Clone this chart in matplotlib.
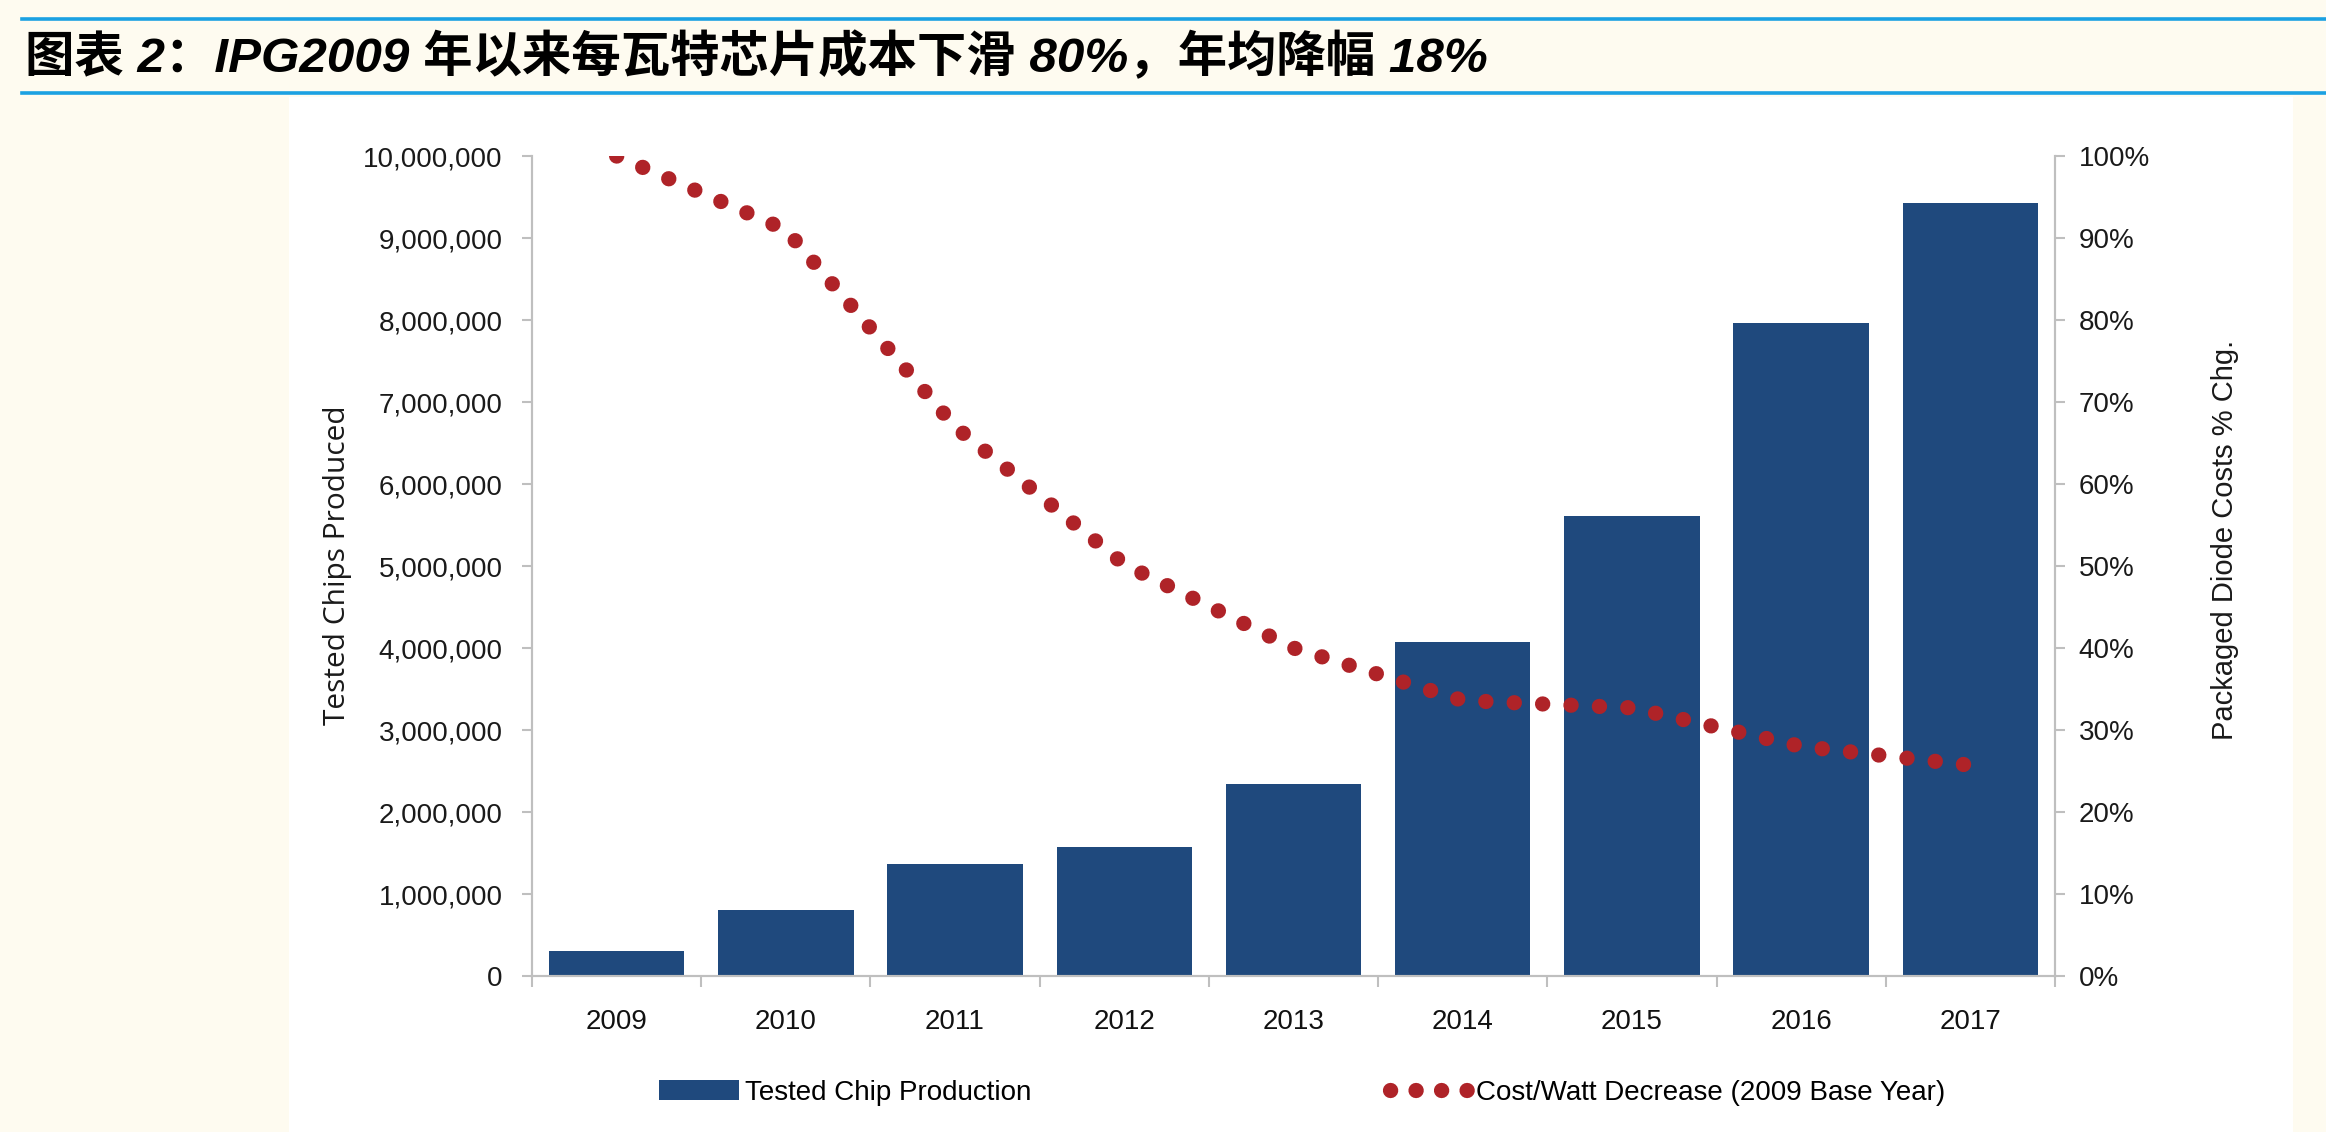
import matplotlib
matplotlib.use("Agg")
import matplotlib.pyplot as plt
from matplotlib import font_manager
from matplotlib.lines import Line2D
from matplotlib.patches import Patch, Rectangle
from matplotlib.ticker import FuncFormatter, MultipleLocator, FixedLocator
import numpy as np

years = ["2009", "2010", "2011", "2012", "2013", "2014", "2015", "2016", "2017"]
chips = [310000, 810000, 1360000, 1575000, 2340000, 4070000, 5610000, 7960000, 9430000]
cost_pct = [100, 91, 67, 50.2, 40, 33.6, 32.7, 28, 25.7]

title = "图表 2：IPG2009 年以来每瓦特芯片成本下滑 80%，年均降幅 18%"
bar_label = "Tested Chip Production"
line_label = "Cost/Watt Decrease (2009 Base Year)"
left_ylabel = "Tested Chips Produced"
right_ylabel = "Packaged Diode Costs % Chg."

names = {f.name for f in font_manager.fontManager.ttflist}
narrow = "Liberation Sans Narrow" if "Liberation Sans Narrow" in names else "Liberation Sans"

bar_color = "#1F497D"
dot_color = "#AF2328"
axis_color = "#BFBFBF"
cream = "#FEFBF0"
rule_blue = "#1BA1E2"

W, H = 2326, 1132
fig = plt.figure(figsize=(W / 100, H / 100), dpi=100, facecolor=cream)

# white panel and the two blue rules of the title band
fig.patches.append(Rectangle((289 / W, 0), (2293 - 289) / W, 1 - 97 / H,
                             transform=fig.transFigure, facecolor="white",
                             edgecolor="none", zorder=-5))
for yy in (19, 93):
    fig.add_artist(Line2D([22 / W, 1], [1 - yy / H] * 2, color=rule_blue, lw=2.6))

fig.text(25 / W, 1 - 57 / H, title, fontsize=35.6, fontweight="bold", fontstyle="italic",
         family=["Liberation Sans", "Noto Sans CJK SC"], va="center", ha="left")

ax = fig.add_axes([532 / W, 1 - 976 / H, (2055 - 532) / W, (976 - 156) / H])
ax.set_facecolor("white")
x = np.arange(len(years))
ax.bar(x, chips, width=0.8, color=bar_color, zorder=2)
ax.set_xlim(-0.5, len(years) - 0.5)
ax.set_ylim(0, 10000000)
ax.yaxis.set_major_locator(MultipleLocator(1000000))
ax.yaxis.set_major_formatter(FuncFormatter(lambda v, p: f"{int(v):,}"))

ax2 = ax.twinx()
ax2.plot(x, cost_pct, color=dot_color, lw=11, linestyle=(0, (0.01, 1.85)),
         dash_capstyle="round", zorder=3)
ax2.set_ylim(0, 100)
ax2.yaxis.set_major_locator(MultipleLocator(10))
ax2.yaxis.set_major_formatter(FuncFormatter(lambda v, p: f"{int(v)}%"))

for a in (ax, ax2):
    a.spines["top"].set_visible(False)
    for s in ("left", "right", "bottom"):
        a.spines[s].set_color(axis_color)
        a.spines[s].set_linewidth(1.5)

ax.set_xticks(x)
ax.set_xticklabels(years, fontsize=20, family="Liberation Sans", color="#111111")
ax.xaxis.set_minor_locator(FixedLocator(np.arange(-0.5, len(years), 1.0)))
ax.tick_params(axis="x", which="major", length=0, pad=24)
ax.tick_params(axis="x", which="minor", length=8, width=1.5, color=axis_color, direction="out")
ax.tick_params(axis="y", length=7, width=1.5, color=axis_color, pad=14,
               labelsize=20, labelcolor="#1a1a1a")
ax2.tick_params(axis="y", length=7, width=1.5, color=axis_color, pad=10,
                labelsize=20, labelcolor="#1a1a1a")
for lab in ax.get_yticklabels() + ax2.get_yticklabels():
    lab.set_family("Liberation Sans")

fig.text(338 / W, 1 - 565 / H, left_ylabel, rotation=90, fontsize=21.5,
         family="Open Sans", va="center", ha="center", color="#1a1a1a")
fig.text(2225 / W, 1 - 540 / H, right_ylabel, rotation=90, fontsize=21,
         family=narrow, va="center", ha="center", color="#1a1a1a")

handles = [Patch(facecolor=bar_color, edgecolor="none"),
           Line2D([0], [0], color=dot_color, lw=11, linestyle=(0, (0.01, 1.66)),
                  dash_capstyle="round")]
leg = fig.legend(handles, [bar_label, line_label], loc="center",
                 bbox_to_anchor=(1302 / W, 1 - 1093 / H), ncol=2, frameon=False,
                 prop={"family": narrow, "size": 20}, handlelength=2.9,
                 handleheight=0.75, handletextpad=0.2, columnspacing=12.9)

fig.savefig("out.png", dpi=100, facecolor=cream)
